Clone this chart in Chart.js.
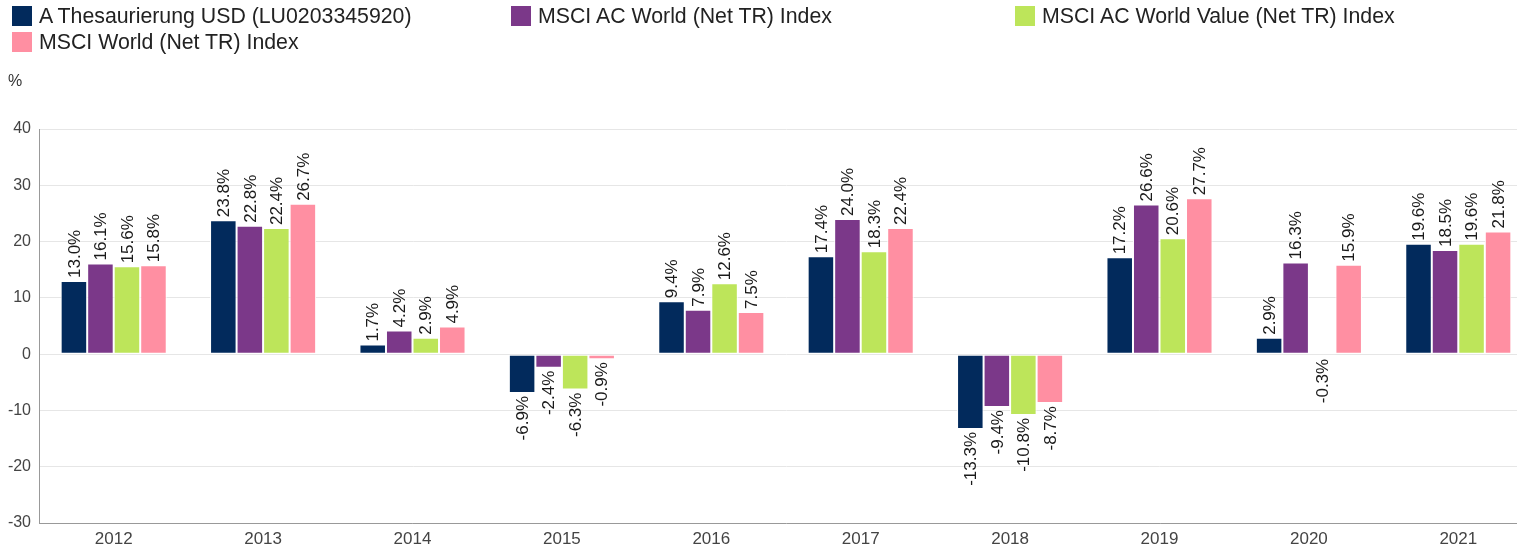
<!DOCTYPE html>
<html>
<head>
<meta charset="utf-8">
<script src="https://cdn.jsdelivr.net/npm/chart.js@4.4.0/dist/chart.umd.min.js"></script>
<style>
    html, body { margin: 0; padding: 0; background: #fff; overflow: hidden; }
    #wrap { position: relative; width: 1533px; height: 548px; }
    #legend {
        position: absolute; left: 12px; top: 6px;
        display: grid; grid-template-columns: 499px 504px auto;
        row-gap: 6px;
        font-family: "Liberation Sans", Arial, sans-serif; font-size: 21.3px; color: #222;
    }
    .item { display: flex; align-items: center; height: 20px; white-space: nowrap; }
    .box { width: 20px; height: 20px; margin-right: 7px; }
</style>
</head>
<body>
<div id="wrap">
    <canvas id="perfChart" width="1533" height="548"></canvas>
    <div id="legend"></div>
</div>
<script>
// chart data
const years = ["2012", "2013", "2014", "2015", "2016", "2017", "2018", "2019", "2020", "2021"];
const seriesNames = [
    "A Thesaurierung USD (LU0203345920)",
    "MSCI AC World (Net TR) Index",
    "MSCI AC World Value (Net TR) Index",
    "MSCI World (Net TR) Index"
];
const fundValues  = [13.0, 23.8, 1.7, -6.9, 9.4, 17.4, -13.3, 17.2, 2.9, 19.6];
const acwiValues  = [16.1, 22.8, 4.2, -2.4, 7.9, 24.0, -9.4, 26.6, 16.3, 18.5];
const valueValues = [15.6, 22.4, 2.9, -6.3, 12.6, 18.3, -10.8, 20.6, -0.3, 19.6];
const worldValues = [15.8, 26.7, 4.9, -0.9, 7.5, 22.4, -8.7, 27.7, 15.9, 21.8];
const colors = ["#022a5c", "#7b3889", "#bde55a", "#ff8fa2"];

const allValues = [fundValues, acwiValues, valueValues, worldValues];

// html legend, 3 columns
const legendEl = document.getElementById("legend");
seriesNames.forEach((name, i) => {
    const item = document.createElement("div");
    item.className = "item";
    item.innerHTML = `<span class="box" style="background:${colors[i]}"></span>${name}`;
    legendEl.appendChild(item);
});

// rotated value labels on bars
const barLabels = {
    id: "barLabels",
    afterDatasetsDraw(chart) {
        const c = chart.ctx;
        c.save();
        c.font = "17px 'Liberation Sans', Arial, sans-serif";
        c.fillStyle = "#1a1a1a";
        c.textBaseline = "middle";
        chart.data.datasets.forEach((ds, di) => {
            chart.getDatasetMeta(di).data.forEach((bar, i) => {
                const v = ds.data[i];
                c.save();
                c.translate(bar.x, bar.y + (v >= 0 ? -3 : 3));
                c.rotate(-Math.PI / 2);
                c.textAlign = v >= 0 ? "left" : "right";
                c.fillText(v.toFixed(1) + "%", 0, 1);
                c.restore();
            });
        });
        c.restore();
    }
};

// "%" unit above the y axis
const unitLabel = {
    id: "unitLabel",
    afterDraw(chart) {
        const c = chart.ctx;
        c.save();
        c.font = "16px 'Liberation Sans', Arial, sans-serif";
        c.fillStyle = "#333";
        c.textBaseline = "middle";
        c.fillText("%", 8, 82);
        c.restore();
    }
};

const ctx = document.getElementById("perfChart").getContext("2d");
new Chart(ctx, {
    type: "bar",
    data: {
        labels: years,
        datasets: allValues.map((vals, i) => ({
            label: seriesNames[i],
            data: vals,
            backgroundColor: colors[i],
            borderColor: "#ffffff",
            borderWidth: 1,
            borderSkipped: false,
            categoryPercentage: 0.71,
            barPercentage: 1.0
        }))
    },
    options: {
        responsive: false,
        animation: false,
        layout: { padding: { top: 129, left: 0, right: 0, bottom: 0 } },
        plugins: {
            legend: { display: false },
            tooltip: { enabled: false }
        },
        scales: {
            x: {
                grid: { display: false, drawTicks: false },
                border: { color: "#999" },
                ticks: {
                    color: "#444",
                    padding: 6,
                    font: { family: "'Liberation Sans', Arial, sans-serif", size: 17 }
                },
                afterFit: scale => { scale.height = 25; }
            },
            y: {
                min: -30,
                max: 40,
                grid: { color: "#e6e6e6", drawTicks: false },
                border: { color: "#999" },
                ticks: {
                    stepSize: 10,
                    color: "#444",
                    padding: 8,
                    font: { family: "'Liberation Sans', Arial, sans-serif", size: 16 }
                },
                afterFit: scale => { scale.width = 39; }
            }
        }
    },
    plugins: [barLabels, unitLabel]
});
</script>
</body>
</html>
